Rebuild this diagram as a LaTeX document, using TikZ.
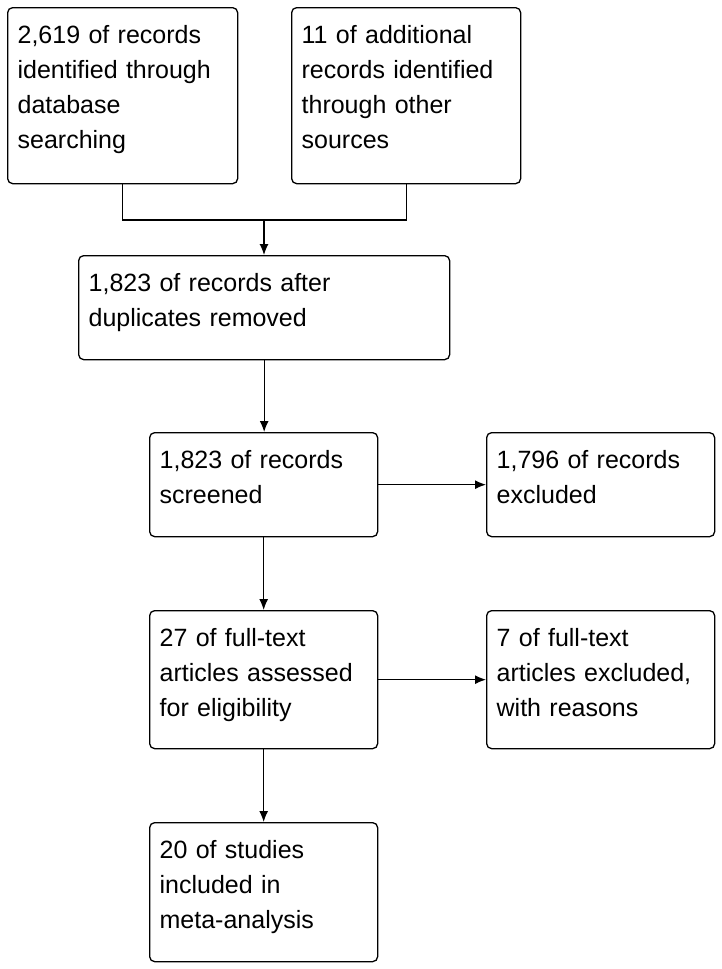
\documentclass[tikz,border=0pt]{standalone}
\usepackage{fontspec}
\setmainfont{Liberation Sans}
\usetikzlibrary{arrows.meta}

\begin{document}
\begin{tikzpicture}[x=1pt,y=-1pt,
    flowbox/.style={draw,line width=1.3pt,rounded corners=5pt,anchor=north west,
        inner xsep=10pt,inner ysep=0pt,align=left,text height=36pt,
        font=\fontsize{25}{35}\selectfont},
    arr/.style={line width=1.2pt,-{Latex[length=11pt,width=9pt]}}]
                \useasboundingbox (0,0) rectangle (722,969);
                \node[flowbox,text width=210pt,text depth=140pt] (db) at (7,7) {2,619 of records\\identified through\\database\\searching};
                \node[flowbox,text width=209pt,text depth=140pt] (other) at (291,7) {11 of additional\\records identified\\through other\\sources};
                \node[flowbox,text width=351pt,text depth=68pt] (dup) at (78,255) {1,823 of records after\\duplicates removed};
                \node[flowbox,text width=208pt,text depth=68pt] (screen) at (149,432) {1,823 of records\\screened};
                \node[flowbox,text width=208pt,text depth=68pt] (excl) at (486,432) {1,796 of records\\excluded};
                \node[flowbox,text width=208pt,text depth=102pt] (full) at (149,610) {27 of full-text\\articles assessed\\for eligibility};
                \node[flowbox,text width=208pt,text depth=102pt] (fullexcl) at (486,610) {7 of full-text\\articles excluded,\\with reasons};
                \node[flowbox,text width=208pt,text depth=103pt] (meta) at (149,822) {20 of studies\\included in\\meta-analysis};
                \coordinate (merge) at (264,220);
                \draw[line width=1.2pt] (db.south) |- (merge) -| (other.south);
                \draw[arr] (merge) -- (merge |- dup.north);
                \draw[arr] (dup.south) -- (dup.south |- screen.north);
                \draw[arr] (screen.east) -- (excl.west);
                \draw[arr] (screen.south) -- (full.north);
                \draw[arr] (full.east) -- (fullexcl.west);
                \draw[arr] (full.south) -- (meta.north);
            \end{tikzpicture}
\end{document}
